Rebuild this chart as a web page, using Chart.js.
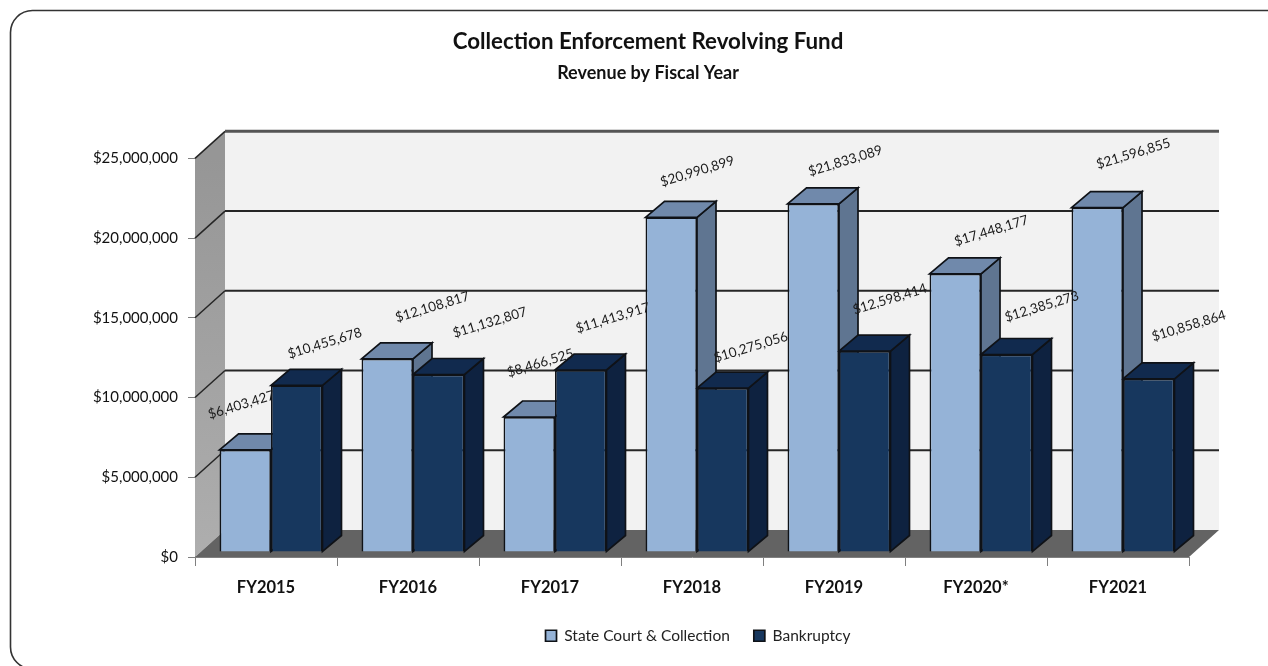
<!DOCTYPE html>
<html>
<head>
<meta charset="utf-8">
<title>Collection Enforcement Revolving Fund</title>
<script src="https://cdn.jsdelivr.net/npm/chart.js@4"></script>
<style>
  html, body { margin: 0; padding: 0; background: #fff; }
  canvas { display: block; }
</style>
</head>
<body>
<canvas id="fundChart" width="1268" height="666"></canvas>
<script>
const years = ["FY2015", "FY2016", "FY2017", "FY2018", "FY2019", "FY2020*", "FY2021"];
const stateCourt = [6403427, 12108817, 8466525, 20990899, 21833089, 17448177, 21596855];
const bankruptcy = [10455678, 11132807, 11413917, 10275056, 12598414, 12385273, 10858864];

const font = "Lato, 'Open Sans', sans-serif";

// 3d look: how far the walls and the bars go back, and how far bars sit off the front
const wallDx = 30, wallDy = -27;
const barDx = 19, barDy = -16;
const barShift = 5;

const light = { front: "#95b3d7", top: "#7089ab", side: "#5f7591" };
const dark = { front: "#17375e", top: "#112a4e", side: "#0e2240" };
const edge = "#0f1217";

// hand placed label offsets from the top centre of each bar, one row per series
const labelNudge = [
  [[-4, -45], [45, -52], [11, -54], [26, -46], [32, -43], [36, -43], [36, -54]],
  [[28, -42], [51, -52], [32, -52], [28, -41], [25, -52], [35, -48], [40, -53]],
];

function poly(ctx, pts, fill, stroke, lw) {
  ctx.beginPath();
  pts.forEach((p, i) => (i ? ctx.lineTo(p[0], p[1]) : ctx.moveTo(p[0], p[1])));
  ctx.closePath();
  ctx.fillStyle = fill;
  ctx.fill();
  if (stroke) {
    ctx.strokeStyle = stroke;
    ctx.lineWidth = lw;
    ctx.stroke();
  }
}

const frame3d = {
  id: "frame3d",
  afterLayout(chart) {
    // legend sits right of the title centre in the original
    chart.legend.left += 50;
    chart.legend.right += 50;
    chart.legend.top = 604;
    // tick labels get clipped at scale.left, give them room
    chart.scales.y.left = 40;
  },
  beforeDraw(chart) {
    const ctx = chart.ctx;
    ctx.save();
    ctx.beginPath();
    ctx.roundRect(10.5, 10.5, 1300, 658.5, 22);
    ctx.strokeStyle = "#333";
    ctx.lineWidth = 1.6;
    ctx.stroke();
    ctx.restore();
  },
  beforeDatasetsDraw(chart) {
    const ctx = chart.ctx;
    const a = chart.chartArea;
    ctx.save();

    // walls and floor
    poly(ctx, [[a.left + wallDx, a.top + wallDy], [a.right + wallDx, a.top + wallDy],
      [a.right + wallDx, a.bottom + wallDy], [a.left + wallDx, a.bottom + wallDy]], "#f2f2f2");
    const g = ctx.createLinearGradient(0, a.top, 0, a.bottom);
    g.addColorStop(0, "#969696");
    g.addColorStop(1, "#aeaeae");
    poly(ctx, [[a.left, a.top], [a.left + wallDx, a.top + wallDy],
      [a.left + wallDx, a.bottom + wallDy], [a.left, a.bottom]], g);
    poly(ctx, [[a.left, a.bottom], [a.left + wallDx, a.bottom + wallDy],
      [a.right + wallDx, a.bottom + wallDy], [a.right, a.bottom]], "#636363");

    // gridlines run along the side wall and the back wall
    chart.scales.y.ticks.forEach((t) => {
      if (t.value === 0) return;
      const y = chart.scales.y.getPixelForValue(t.value);
      const isTop = t.value === chart.scales.y.max;
      ctx.beginPath();
      ctx.moveTo(a.left, y);
      ctx.lineTo(a.left + wallDx, y + wallDy);
      ctx.strokeStyle = "#262626";
      ctx.lineWidth = 1.5;
      ctx.stroke();
      ctx.beginPath();
      ctx.moveTo(a.left + wallDx, y + wallDy);
      ctx.lineTo(a.right + wallDx, y + wallDy);
      ctx.strokeStyle = isTop ? "#555" : "#262626";
      ctx.lineWidth = isTop ? 3 : 2;
      ctx.stroke();
    });

    // bars get shifted off the front plane, top and side faces go first
    ctx.translate(barShift, -barShift);
    chart.data.datasets.forEach((ds, d) => {
      const shade = d === 0 ? light : dark;
      chart.getDatasetMeta(d).data.forEach((bar) => {
        const l = bar.x - bar.width / 2, r = bar.x + bar.width / 2;
        poly(ctx, [[r, bar.y], [r + barDx, bar.y + barDy], [r + barDx, bar.base + barDy], [r, bar.base]],
          shade.side, edge, 1.7);
        poly(ctx, [[l, bar.y], [l + barDx, bar.y + barDy], [r + barDx, bar.y + barDy], [r, bar.y]],
          shade.top, edge, 1.7);
      });
    });
  },
  afterDatasetsDraw(chart) {
    const ctx = chart.ctx;
    ctx.restore();

    // slanted value labels
    ctx.save();
    ctx.font = "13.5px " + font;
    ctx.fillStyle = "#1a1a1a";
    ctx.textAlign = "center";
    ctx.textBaseline = "middle";
    chart.data.datasets.forEach((ds, d) => {
      chart.getDatasetMeta(d).data.forEach((bar, i) => {
        const n = labelNudge[d][i];
        ctx.save();
        ctx.translate(bar.x + barShift + n[0], bar.y - barShift + n[1]);
        ctx.rotate(-17 * Math.PI / 180);
        ctx.fillText("$" + ds.data[i].toLocaleString("en-US"), 0, 0);
        ctx.restore();
      });
    });
    ctx.restore();
  },
};

new Chart(document.getElementById("fundChart"), {
  type: "bar",
  data: {
    labels: years,
    datasets: [
      {
        label: "State Court & Collection",
        data: stateCourt,
        backgroundColor: light.front,
        borderColor: edge,
        borderWidth: 1.7,
        clip: false,
      },
      {
        label: "Bankruptcy",
        data: bankruptcy,
        backgroundColor: dark.front,
        borderColor: edge,
        borderWidth: 1.7,
        clip: false,
      },
    ],
  },
  plugins: [frame3d],
  options: {
    responsive: false,
    animation: false,
    layout: { padding: { left: 107, right: 79, top: 0, bottom: 0 } },
    datasets: { bar: { categoryPercentage: 0.725, barPercentage: 1 } },
    plugins: {
      tooltip: { enabled: false },
      title: {
        display: true,
        text: "Collection Enforcement Revolving Fund",
        color: "#111",
        font: { family: font, size: 22.3, weight: "bold" },
        padding: { top: 28, bottom: 8 },
      },
      subtitle: {
        display: true,
        text: "Revenue by Fiscal Year",
        color: "#111",
        font: { family: font, size: 18, weight: "bold" },
        padding: { top: 0, bottom: 74 },
      },
      legend: {
        position: "bottom",
        labels: {
          color: "#222",
          font: { family: font, size: 15.5 },
          boxWidth: 11,
          boxHeight: 11,
          padding: 24,
        },
      },
    },
    scales: {
      x: {
        afterFit(scale) {
          scale.height = 109 - (scale.chart.legend ? scale.chart.legend.height : 0);
        },
        grid: { drawOnChartArea: false, color: "#808080", tickLength: 9 },
        border: { color: "#808080" },
        ticks: {
          color: "#111",
          padding: 12,
          maxRotation: 0,
          font: { family: font, size: 16.5, weight: "bold" },
        },
      },
      y: {
        min: 0,
        max: 25000000,
        afterFit(scale) {
          scale.width = 88;
        },
        grid: { drawOnChartArea: false, color: "#808080", tickLength: 7 },
        border: { color: "#808080" },
        ticks: {
          stepSize: 5000000,
          color: "#111",
          padding: 10,
          font: { family: font, size: 15 },
          callback: (v) => "$" + v.toLocaleString("en-US"),
        },
      },
    },
  },
});
</script>
</body>
</html>
